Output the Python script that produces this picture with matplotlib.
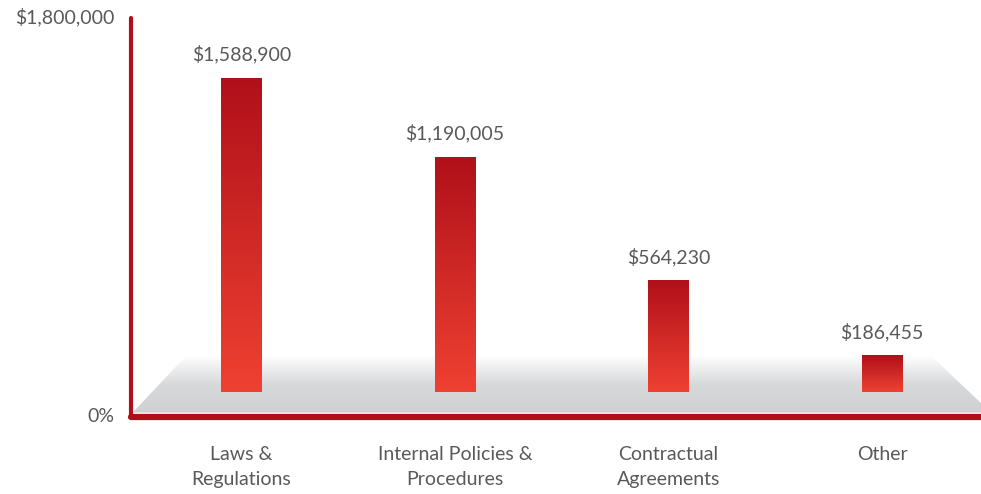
"""Losses by category: gradient bars standing on a grey floor."""

import matplotlib.pyplot as plt
import numpy as np
from matplotlib.colors import LinearSegmentedColormap
from matplotlib.patches import Polygon

plt.rcParams["font.family"] = ["Lato", "DejaVu Sans"]

categories = ["Laws &\nRegulations", "Internal Policies &\nProcedures",
              "Contractual\nAgreements", "Other"]
amounts = [1588900, 1190005, 564230, 186455]
value_labels = ["$1,588,900", "$1,190,005", "$564,230", "$186,455"]
axis_labels = ["0%", "$1,800,000"]

RED = "#b00f1a"
TEXT = "#595959"
bar_cmap = LinearSegmentedColormap.from_list("bar", ["#ef4132", "#b0101a"])
floor_cmap = LinearSegmentedColormap.from_list(
    "floor", ["#cfd0d2", "#d8d9db", "#ffffff"])

fig = plt.figure(figsize=(9.81, 4.94), dpi=100)
ax = fig.add_axes([131 / 981, 79 / 494, 850 / 981, 399 / 494])

x = np.arange(len(categories))
width = 0.192

# grey floor (axes coordinates)
floor = Polygon([(0.002, 0.006), (1.0, 0.006), (1.0, 0.03), (0.94, 0.151),
                 (0.066, 0.151)], closed=True, transform=ax.transAxes,
                facecolor="none", edgecolor="none")
ax.add_patch(floor)
grad = np.linspace(0, 1, 256).reshape(-1, 1)
im = ax.imshow(grad, cmap=floor_cmap, aspect="auto", origin="lower",
               extent=(0, 1, 0.006, 0.151), transform=ax.transAxes, zorder=1)
im.set_clip_path(floor)

# gradient bars
for xi, val, lab in zip(x, amounts, value_labels):
    bar = ax.bar(xi, val, width=width, color="none", zorder=2)[0]
    img = ax.imshow(grad, cmap=bar_cmap, aspect="auto", origin="lower",
                    extent=(xi - width / 2, xi + width / 2, 0, val), zorder=2)
    img.set_clip_path(bar)
    ax.annotate(lab, (xi, val), xytext=(0, 10), textcoords="offset points",
                ha="center", va="bottom", fontsize=14, color=TEXT)

ax.set_xlim(-0.518, 3.463)
ax.set_ylim(-116000, 1900000)

# axis lines
for s in ["top", "right", "left", "bottom"]:
    ax.spines[s].set_visible(False)
ax.plot([0, 0], [0, 0.995], transform=ax.transAxes, color=RED, lw=3,
        solid_capstyle="round", clip_on=False, zorder=3)
ax.plot([0, 1], [-0.005, -0.005], transform=ax.transAxes, color=RED, lw=4.5,
        solid_capstyle="round", clip_on=False, zorder=3)

ax.set_yticks(ax.get_ylim())
ax.set_yticklabels(axis_labels)
ax.tick_params(axis="y", length=0, pad=12, labelsize=14, labelcolor=TEXT)
ax.set_xticks(x)
ax.set_xticklabels(categories, linespacing=1.6)
ax.tick_params(axis="x", length=0, pad=22, labelsize=14, labelcolor=TEXT)

fig.savefig("out.png", dpi=100)
